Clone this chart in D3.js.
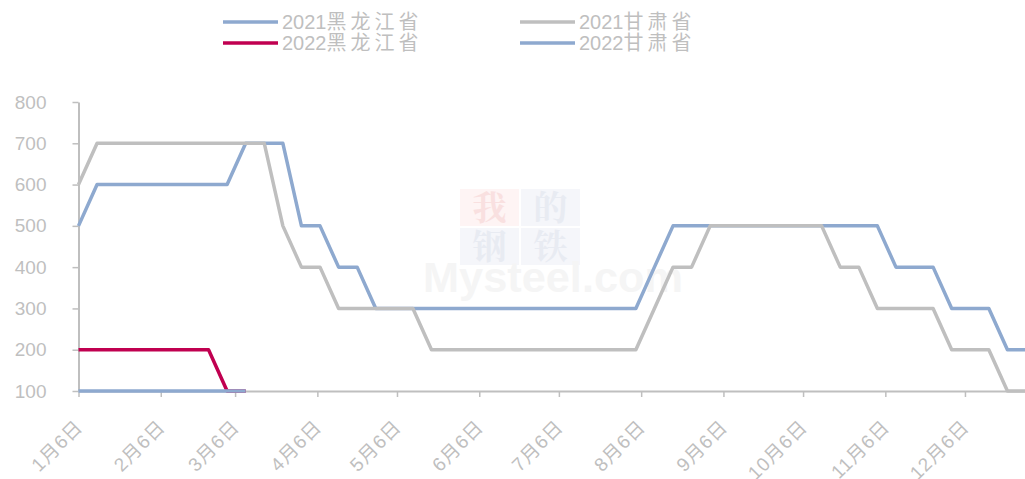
<!DOCTYPE html>
<html>
<head>
<meta charset="utf-8">
<script src="https://cdn.jsdelivr.net/npm/d3@7/dist/d3.min.js"></script>
<style>
  html, body { margin: 0; padding: 0; background: #fff; }
  svg { display: block; }
</style>
</head>
<body>
<div id="chart"></div>
<script>
// weekly readings, first one on 1月6日
var startDate = new Date(2021, 0, 6);
var hlj2021 = [500, 600, 600, 600, 600, 600, 600, 600, 600, 700, 700, 700, 500, 500, 400, 400, 300, 300, 300, 300,
               300, 300, 300, 300, 300, 300, 300, 300, 300, 300, 300, 400, 500, 500, 500, 500, 500, 500, 500, 500,
               500, 500, 500, 500, 400, 400, 400, 300, 300, 300, 200, 200];
var gs2021  = [600, 700, 700, 700, 700, 700, 700, 700, 700, 700, 700, 500, 400, 400, 300, 300, 300, 300, 300, 200,
               200, 200, 200, 200, 200, 200, 200, 200, 200, 200, 200, 300, 400, 400, 500, 500, 500, 500, 500, 500,
               500, 400, 400, 300, 300, 300, 300, 200, 200, 200, 100, 100];
var hlj2022 = [200, 200, 200, 200, 200, 200, 200, 200, 100, 100];
var gs2022  = [100, 100, 100, 100, 100, 100, 100, 100, 100, 100];
var seriesNames = ["2021黑龙江省", "2021甘肃省", "2022黑龙江省", "2022甘肃省"];
var seriesColors = ["#8EA9CF", "#BFBFBF", "#C00050", "#8EA9CF"];
var yTicks = [100, 200, 300, 400, 500, 600, 700, 800];
var monthTicks = d3.range(0, 12).map(function(m) { return new Date(2021, m, 6); });

var W = 1025, H = 479;
var plotLeft = 78.5, plotRight = 1026, plotTop = 102, plotBottom = 391;
var textColor = "#BFBFBF";
var font = "'Liberation Sans', Arial, 'Noto Sans CJK SC', sans-serif";

var svg = d3.select("#chart").append("svg")
    .attr("width", W)
    .attr("height", H);

var toPoints = function(vals) {
    return vals.map(function(v, i) { return { date: d3.timeDay.offset(startDate, 7 * i), value: v }; });
};
var allSeries = [hlj2021, gs2021, hlj2022, gs2022].map(toPoints);

var x = d3.scaleTime()
    .domain([startDate, d3.timeDay.offset(startDate, 7 * (hlj2021.length - 1))])
    .range([plotLeft, plotRight]);
var y = d3.scaleLinear().domain([100, 800]).range([plotBottom, plotTop]);

// watermark
var wm = svg.append("g").attr("pointer-events", "none");
var boxes = [
    { t: "我", x: 460, y: 189, bg: "#FEF4F4", fg: "#F9E0E0" },
    { t: "的", x: 521, y: 189, bg: "#F5F6FA", fg: "#E8EBF2" },
    { t: "钢", x: 460, y: 228, bg: "#F5F6FA", fg: "#E8EBF2" },
    { t: "铁", x: 521, y: 228, bg: "#F5F6FA", fg: "#E8EBF2" }
];
boxes.forEach(function(b) {
    wm.append("rect").attr("x", b.x).attr("y", b.y).attr("width", 59).attr("height", 37).attr("fill", b.bg);
    wm.append("text").text(b.t)
        .attr("x", b.x + 29.5).attr("y", b.y + 31)
        .attr("text-anchor", "middle")
        .attr("font-family", "'Noto Serif CJK SC', 'Noto Sans CJK SC', serif")
        .attr("font-weight", "bold")
        .attr("font-size", 34)
        .attr("fill", b.fg);
});
wm.append("text").text("Mysteel.com")
    .attr("x", 423).attr("y", 292)
    .attr("font-family", "'Liberation Sans', Arial, sans-serif")
    .attr("font-weight", "bold")
    .attr("font-size", 42)
    .attr("textLength", 260)
    .attr("lengthAdjust", "spacingAndGlyphs")
    .attr("fill", "#F5F5F5");

// y axis
var yAxis = svg.append("g")
    .attr("transform", "translate(" + plotLeft + ",0)")
    .call(d3.axisLeft(y).tickValues(yTicks).tickSize(6).tickPadding(26).tickSizeOuter(0));
yAxis.select(".domain").attr("stroke", textColor).attr("stroke-width", 2);
yAxis.selectAll(".tick line").attr("stroke", textColor).attr("stroke-width", 1.5);
yAxis.selectAll(".tick text")
    .attr("fill", textColor)
    .attr("font-family", font)
    .attr("font-size", 19);

// x axis
var xAxis = svg.append("g")
    .attr("transform", "translate(0," + plotBottom + ")")
    .call(d3.axisBottom(x).tickValues(monthTicks).tickSize(6).tickSizeOuter(0)
        .tickFormat(function(d) { return (d.getMonth() + 1) + "月" + d.getDate() + "日"; }));
xAxis.select(".domain").attr("stroke", textColor).attr("stroke-width", 2);
xAxis.selectAll(".tick line").attr("stroke", textColor).attr("stroke-width", 1.5);
xAxis.selectAll(".tick text")
    .attr("fill", textColor)
    .attr("font-family", font)
    .attr("font-size", 19)
    .attr("letter-spacing", 1)
    .attr("text-anchor", "end")
    .attr("dy", null)
    .attr("y", 0)
    .attr("transform", "translate(5,37) rotate(-45)");

// lines
var line = d3.line()
    .x(function(d) { return x(d.date); })
    .y(function(d) { return y(d.value); });

svg.append("g").selectAll("path")
    .data(allSeries)
    .enter().append("path")
    .attr("d", line)
    .attr("fill", "none")
    .attr("stroke", function(d, i) { return seriesColors[i]; })
    .attr("stroke-width", 3.5)
    .attr("stroke-linejoin", "round");

// legend
var legendPos = [[223, 22], [520, 22], [223, 43], [520, 43]];
seriesNames.forEach(function(name, i) {
    var g = svg.append("g").attr("transform", "translate(" + legendPos[i][0] + "," + legendPos[i][1] + ")");
    g.append("line")
        .attr("x1", 0).attr("x2", 55)
        .attr("y1", 0).attr("y2", 0)
        .attr("stroke", seriesColors[i])
        .attr("stroke-width", 3.5);
    var t = g.append("text")
        .attr("x", 59).attr("y", 7)
        .attr("fill", textColor)
        .attr("font-family", font)
        .attr("font-size", 20);
    t.append("tspan").text(name.slice(0, 4));
    t.append("tspan").text(name.slice(4)).attr("letter-spacing", 4);
});
</script>
</body>
</html>
